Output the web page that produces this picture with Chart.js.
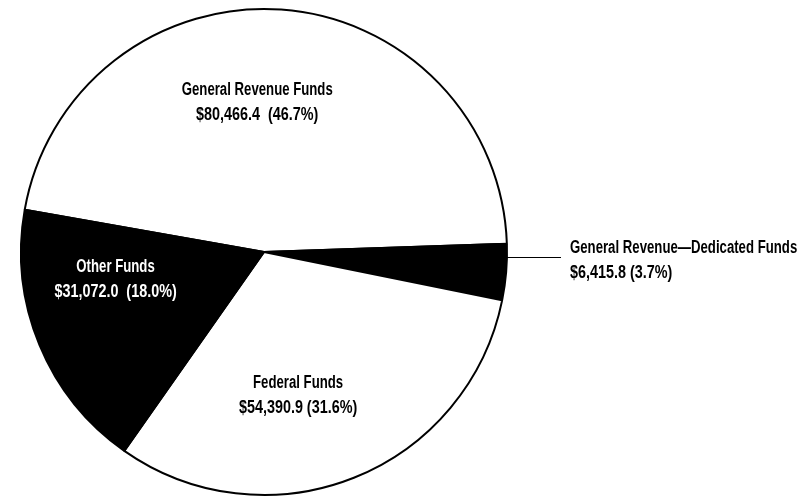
<!DOCTYPE html>
<html>
<head>
<meta charset="utf-8">
<title>All Funds</title>
<script src="https://cdn.jsdelivr.net/npm/chart.js@4"></script>
<style>
  html, body { margin: 0; padding: 0; background: #fff; }
  #wrap { width: 812px; height: 498px; }
</style>
</head>
<body>
<div id="wrap"><canvas id="fundsChart" width="812" height="498"></canvas></div>
<script>
// amounts in millions
const categories = ["General Revenue Funds", "General Revenue\u2014Dedicated Funds", "Federal Funds", "Other Funds"];
const amounts = [80466.4, 6415.8, 54390.9, 31072.0];
const shares = ["46.7%", "3.7%", "31.6%", "18.0%"];
const sliceColors = ["#ffffff", "#000000", "#ffffff", "#000000"];

// where each label sits: shift (deg) from the slice middle and distance as a fraction of the radius
const labelSpots = [
  { shift: -6.6, dist: 0.622, color: "#000", gap: "  " },
  { outside: true, at: 1.1, gap: " " },
  { shift: 8.2, dist: 0.6, color: "#000", gap: " " },
  { shift: 12.6, dist: 0.62, color: "#fff", gap: "  " },
];

const FONT = 'bold 18px "Liberation Sans", Arimo, sans-serif';
const TITLE_WIDTH = 151; // width of the widest in-slice title, text is squeezed to it
const VALUE_WIDEN = 1.09; // figures run a little wider than the titles

function money(v) {
  return "$" + v.toLocaleString("en-US", { minimumFractionDigits: 1, maximumFractionDigits: 1 });
}

// condensed look: draw text squeezed horizontally
function narrowText(ctx, text, x, y, squeeze) {
  ctx.save();
  ctx.translate(x, y);
  ctx.scale(squeeze, 1);
  ctx.fillText(text, 0, 0);
  ctx.restore();
}

const sliceLabels = {
  id: "sliceLabels",
  afterDatasetsDraw(chart) {
    const ctx = chart.ctx;
    const arcs = chart.getDatasetMeta(0).data;
    ctx.save();
    ctx.font = FONT;
    ctx.textBaseline = "alphabetic";
    const squeeze = TITLE_WIDTH / ctx.measureText(categories[0]).width;
    const squeezeVal = squeeze * VALUE_WIDEN;
    arcs.forEach((arc, i) => {
      const spot = labelSpots[i];
      const line2 = money(amounts[i]) + spot.gap + "(" + shares[i] + ")";
      const r = arc.outerRadius;
      if (spot.outside) {
        const a = spot.at * Math.PI / 180;
        const x0 = arc.x + r * Math.cos(a);
        const y0 = Math.round(arc.y + r * Math.sin(a)) + 0.5;
        ctx.strokeStyle = "#000";
        ctx.lineWidth = 1.2;
        ctx.beginPath();
        ctx.moveTo(x0, y0);
        ctx.lineTo(arc.x + r + 54, y0);
        ctx.stroke();
        ctx.fillStyle = "#000";
        ctx.textAlign = "left";
        narrowText(ctx, categories[i], arc.x + r + 63, y0 - 5, squeeze);
        narrowText(ctx, line2, arc.x + r + 63, y0 + 20, squeezeVal);
        return;
      }
      const mid = (arc.startAngle + arc.endAngle) / 2 + spot.shift * Math.PI / 180;
      const x = arc.x + Math.cos(mid) * r * spot.dist;
      const y = arc.y + Math.sin(mid) * r * spot.dist;
      ctx.fillStyle = spot.color;
      ctx.textAlign = "center";
      narrowText(ctx, categories[i], x, y - 6, squeeze);
      narrowText(ctx, line2, x, y + 19, squeezeVal);
    });
    ctx.restore();
  }
};

const ctx = document.getElementById("fundsChart").getContext("2d");
const fundsChart = new Chart(ctx, {
  type: "pie",
  data: {
    labels: categories,
    datasets: [
      {
        data: amounts,
        backgroundColor: sliceColors,
        borderColor: "#000000",
        borderWidth: 2,
      },
    ],
  },
  options: {
    responsive: false,
    animation: false,
    rotation: 280,
    layout: { padding: { left: 20, right: 304, top: 8, bottom: 2 } },
    plugins: {
      legend: { display: false },
      tooltip: { enabled: false },
    },
  },
  plugins: [sliceLabels],
});
</script>
</body>
</html>
